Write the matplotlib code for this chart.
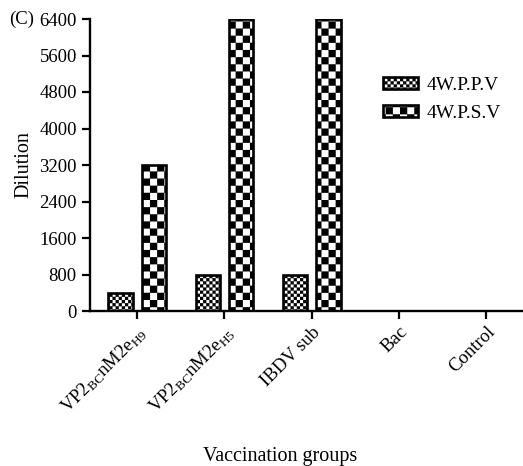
import numpy as np
import matplotlib
matplotlib.use("Agg")
import matplotlib.pyplot as plt
import matplotlib.hatch as mh
from matplotlib.path import Path

# ---- data ----
groups = ["VP2$_{\\mathrm{BC}}$nM2e$_{\\mathrm{H9}}$",
          "VP2$_{\\mathrm{BC}}$nM2e$_{\\mathrm{H5}}$",
          "IBDV sub", "Bac", "Control"]
ppv = [400, 800, 800, 0, 0]
psv = [3200, 6400, 6400, 0, 0]
series_names = ["4W.P.P.V", "4W.P.S.V"]
yticks = [0, 800, 1600, 2400, 3200, 4000, 4800, 5600, 6400]


# ---- custom checkerboard hatches ('o' = fine, 'O' = coarse) ----
class Checker(mh.HatchPatternBase):
    def __init__(self, hatch, n):
        self.n = n if hatch else 0
        cells = [(i, j) for i in range(self.n) for j in range(self.n) if (i + j) % 2 == 0]
        self.cells = cells
        self.num_vertices = 5 * len(cells)

    def set_vertices_and_codes(self, vertices, codes):
        s = 1.0 / self.n
        k = 0
        for (i, j) in self.cells:
            x0, y0 = i * s, j * s
            vertices[k:k + 5] = [(x0, y0), (x0 + s, y0), (x0 + s, y0 + s), (x0, y0 + s), (x0, y0)]
            codes[k:k + 5] = [Path.MOVETO, Path.LINETO, Path.LINETO, Path.LINETO, Path.CLOSEPOLY]
            k += 5


class FineChecker(Checker):
    def __init__(self, hatch, density):
        super().__init__('o' in hatch, 32)


class CoarseChecker(Checker):
    def __init__(self, hatch, density):
        super().__init__('O' in hatch, 14)


mh._hatch_types = [FineChecker, CoarseChecker]

plt.rcParams['font.family'] = ['Liberation Serif', 'DejaVu Serif']
plt.rcParams['mathtext.fontset'] = 'custom'
plt.rcParams['mathtext.rm'] = 'Liberation Serif'
plt.rcParams['mathtext.it'] = 'Liberation Serif'
plt.rcParams['hatch.linewidth'] = 0.1
plt.rcParams['hatch.color'] = 'black'

fig = plt.figure(figsize=(5.23, 4.66), dpi=100)
ax = fig.add_axes([90 / 523, 1 - 311 / 466, 1 - 90 / 523, (311 - 19) / 466])

x = np.arange(len(groups))
w = 0.28
off = 0.19
ax.bar(x - off, ppv, w, facecolor='white', edgecolor='black', linewidth=1.9,
       hatch='o', label=series_names[0])
ax.bar(x + off, psv, w, facecolor='white', edgecolor='black', linewidth=1.9,
       hatch='O', label=series_names[1])

ax.set_xlim(-0.54, 4.42)
ax.set_ylim(0, 6400)
ax.set_yticks(yticks)
ax.set_xticks(x)
ax.set_xticklabels(groups, rotation=45, ha='right', va='top', rotation_mode='anchor',
                   fontsize=13.5)
ax.tick_params(axis='both', length=6, width=1.6, labelsize=13.5)
ax.tick_params(axis='x', pad=3)
for s in ['top', 'right']:
    ax.spines[s].set_visible(False)
for s in ['left', 'bottom']:
    ax.spines[s].set_linewidth(1.7)

ax.set_ylabel("Dilution", fontsize=14.5, labelpad=4)
fig.text(280 / 523, 1 - 456 / 466, "Vaccination groups", ha='center', va='center', fontsize=14.5)
fig.text(9 / 523, 1 - 19 / 466, "(C)", ha='left', va='center', fontsize=13.5)

leg = ax.legend(loc='upper left', bbox_to_anchor=((375 - 90) / 433, 1 - (69 - 19) / 292),
                frameon=False, fontsize=14, handlelength=1.8, handleheight=0.62,
                handletextpad=0.45, labelspacing=0.55, borderaxespad=0)

fig.savefig("out.png", dpi=100)
